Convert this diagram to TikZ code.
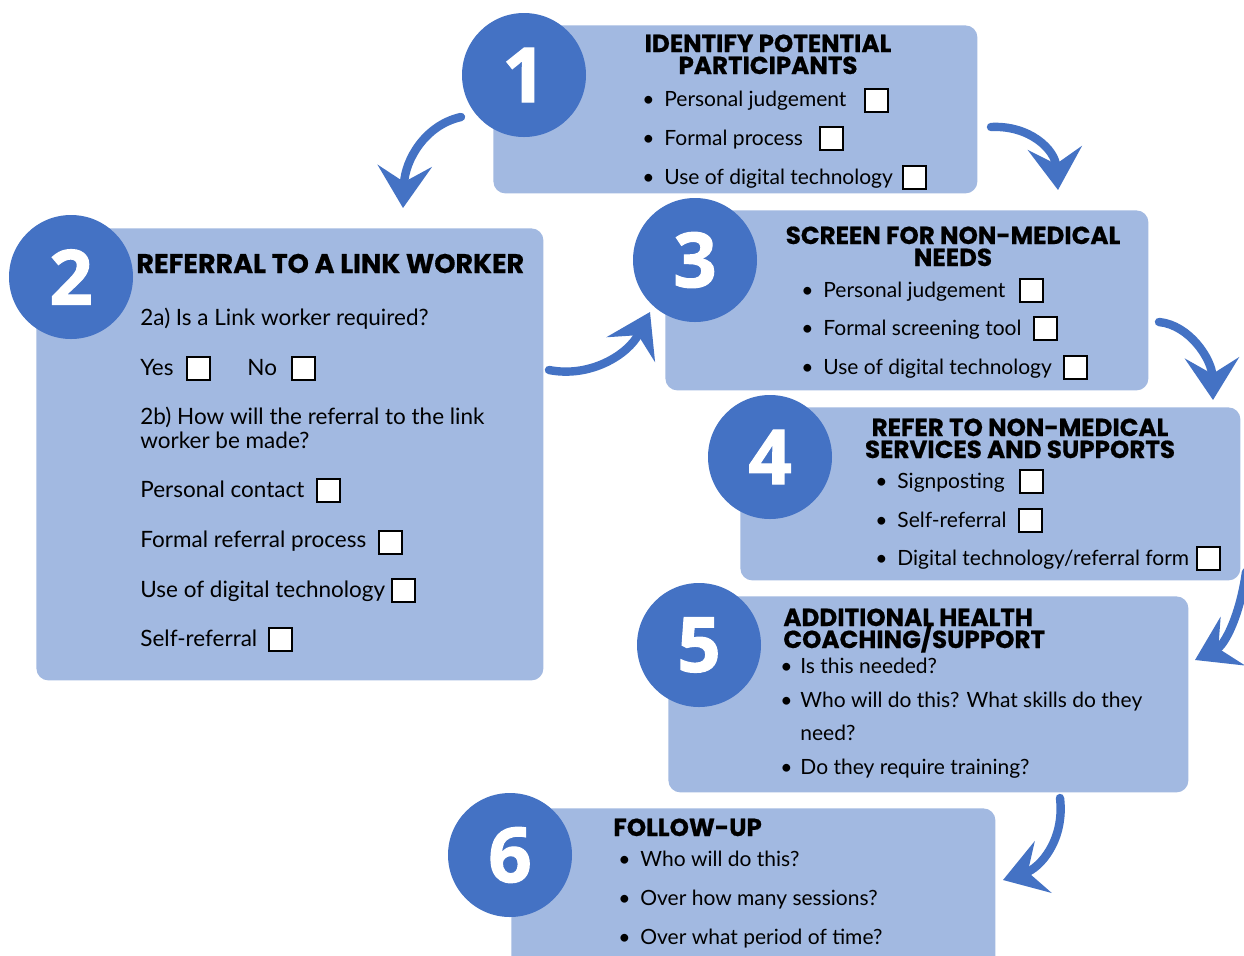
\documentclass[tikz,border=0pt]{standalone}
\usepackage{fontspec}
\setmainfont{Lato}
\newfontfamily\headfont{Poppins}[BoldFeatures={FakeBold=0.6}]
\newfontfamily\numfont{Open Sans}[BoldFeatures={FakeBold=1.5}]
\usetikzlibrary{arrows.meta}
\definecolor{boxblue}{HTML}{A2B9E1}
\definecolor{darkblue}{HTML}{4472C4}
\tikzset{
 panel/.style={fill=boxblue, rounded corners=6pt, draw=none, inner sep=0pt, anchor=north west},
 num/.style={circle, fill=darkblue, minimum size=62pt, inner sep=0pt, text=white, font=\numfont\bfseries\fontsize{38}{38}\selectfont},
 headc/.style={inner sep=0pt, anchor=base, font=\headfont\bfseries\fontsize{12.3}{12}\selectfont},
 headl/.style={inner sep=0pt, anchor=base west, font=\headfont\bfseries\fontsize{12.3}{12}\selectfont},
 txt/.style={inner sep=0pt, anchor=base west, font=\fontsize{10.5}{12}\selectfont},
 txtb/.style={inner sep=0pt, anchor=base west, font=\fontsize{11.25}{12}\selectfont},
 cbox/.style={draw=black, line width=1pt, fill=white, minimum size=11.5pt, inner sep=0pt},
 flow/.style={draw=darkblue, line width=4.2pt, line cap=round, -{Stealth[length=21pt,width=27pt,inset=8pt]}},
}
\newcommand{\bul}{\makebox[11pt][l]{\textbullet}}
\begin{document}
\begin{tikzpicture}[x=0.5pt,y=-0.5pt]
\useasboundingbox (0,0) rectangle (1244,955);
\clip (0,0) rectangle (1244,955);
\fill[white] (0,0) rectangle (1244,955);
% panels
\node[panel, minimum width=242pt, minimum height=84pt] (b1) at (493,25) {};
\node[panel, minimum width=253.5pt, minimum height=226pt] (b2) at (36,228) {};
\node[panel, minimum width=241.5pt, minimum height=90pt] (b3) at (665,210) {};
\node[panel, minimum width=250pt, minimum height=86.5pt] (b4) at (740,407) {};
\node[panel, minimum width=260pt, minimum height=98pt] (b5) at (668,596) {};
\node[panel, minimum width=242pt, minimum height=85pt] (b6) at (511,808) {};
% circles
\node[num] (c1) at (524,75) {1};
\node[num] (c2) at (71,277) {2};
\node[num] (c3) at (695,260) {3};
\node[num] (c4) at (770,457) {4};
\node[num] (c5) at (699,645) {5};
\node[num] (c6) at (510,855) {6};
% box 1
\node[headc] (h1a) at (768,52) {IDENTIFY POTENTIAL};
\node[headc] (h1b) at (768,74) {PARTICIPANTS};
\node[txt] (t1a) at (642,106) {\bul Personal judgement};
\node[txt] (t1b) at (642,145) {\bul Formal process};
\node[txt] (t1c) at (642,184) {\bul Use of digital technology};
\node[cbox] (k1a) at (876,100) {};
\node[cbox] (k1b) at (831,138) {};
\node[cbox] (k1c) at (914,177) {};
% box 2
\node[headl, font=\headfont\bfseries\fontsize{13.5}{13}\selectfont] (h2) at (136,273) {REFERRAL TO A LINK WORKER};
\node[txtb] (t2a) at (140,325) {2a) Is a Link worker required?};
\node[txtb] (t2y) at (140,375) {Yes};
\node[cbox] (k2y) at (198,368) {};
\node[txtb] (t2n) at (247,375) {No};
\node[cbox] (k2n) at (303,368) {};
\node[txtb] (t2b) at (140,424) {2b) How will the referral to the link};
\node[txtb] (t2c) at (140,448) {worker be made?};
\node[txtb] (t2d) at (140,497) {Personal contact};
\node[cbox] (k2d) at (328,490) {};
\node[txtb] (t2e) at (140,547) {Formal referral process};
\node[cbox] (k2e) at (390,542) {};
\node[txtb] (t2f) at (140,597) {Use of digital technology};
\node[cbox] (k2f) at (403,590) {};
\node[txtb] (t2g) at (140,646) {Self-referral};
\node[cbox] (k2g) at (280,639) {};
% box 3
\node[headc] (h3a) at (953,244) {SCREEN FOR NON-MEDICAL};
\node[headc] (h3b) at (953,266) {NEEDS};
\node[txt] (t3a) at (801,297) {\bul Personal judgement};
\node[txt] (t3b) at (801,335) {\bul Formal screening tool};
\node[txt] (t3c) at (801,374) {\bul Use of digital technology};
\node[cbox] (k3a) at (1031,290) {};
\node[cbox] (k3b) at (1045,328) {};
\node[cbox] (k3c) at (1075,367) {};
% box 4
\node[headc] (h4a) at (1020,436) {REFER TO NON-MEDICAL};
\node[headc] (h4b) at (1020,458) {SERVICES AND SUPPORTS};
\node[txt] (t4a) at (875,488) {\bul Signposting};
\node[txt] (t4b) at (875,527) {\bul Self-referral};
\node[txt] (t4c) at (875,565) {\bul Digital technology/referral form};
\node[cbox] (k4a) at (1031,481) {};
\node[cbox] (k4b) at (1030,520) {};
\node[cbox] (k4c) at (1208,558) {};
% box 5
\node[headl] (h5a) at (783,626) {ADDITIONAL HEALTH};
\node[headl] (h5b) at (783,648) {COACHING/SUPPORT};
\node[txt] (t5a) at (780,673) {\makebox[10pt][l]{\textbullet}Is this needed?};
\node[txt] (t5b) at (780,707) {\makebox[10pt][l]{\textbullet}Who will do this? What skills do they};
\node[txt] (t5c) at (800,740) {need?};
\node[txt] (t5d) at (780,774) {\makebox[10pt][l]{\textbullet}Do they require training?};
% box 6
\node[headl] (h6) at (613,836) {FOLLOW-UP};
\node[txt] (t6a) at (618,866) {\bul Who will do this?};
\node[txt] (t6b) at (618,905) {\bul Over how many sessions?};
\node[txt] (t6c) at (618,944) {\bul Over what period of time?};
% arrows
\coordinate (a12s) at (461,117); \coordinate (a12e) at (403,208);
\coordinate (a13s) at (991,127); \coordinate (a13e) at (1058,190);
\coordinate (a23s) at (549,370); \coordinate (a23e) at (650,312);
\coordinate (a34s) at (1159,322); \coordinate (a34e) at (1213,400);
\coordinate (a45s) at (1246,572); \coordinate (a45e) at (1195,660);
\coordinate (a56s) at (1060,798); \coordinate (a56e) at (1003,880);
\draw[flow] (a12s) .. controls (425,125) and (405,160) .. (a12e);
\draw[flow] (a13s) .. controls (1030,125) and (1055,150) .. (a13e);
\draw[flow] (a23s) .. controls (590,378) and (628,355) .. (a23e);
\draw[flow] (a34s) .. controls (1190,325) and (1212,360) .. (a34e);
\draw[flow] (a45s) .. controls (1240,615) and (1225,645) .. (a45e);
\draw[flow] (a56s) .. controls (1065,840) and (1040,868) .. (a56e);
\end{tikzpicture}
\end{document}
